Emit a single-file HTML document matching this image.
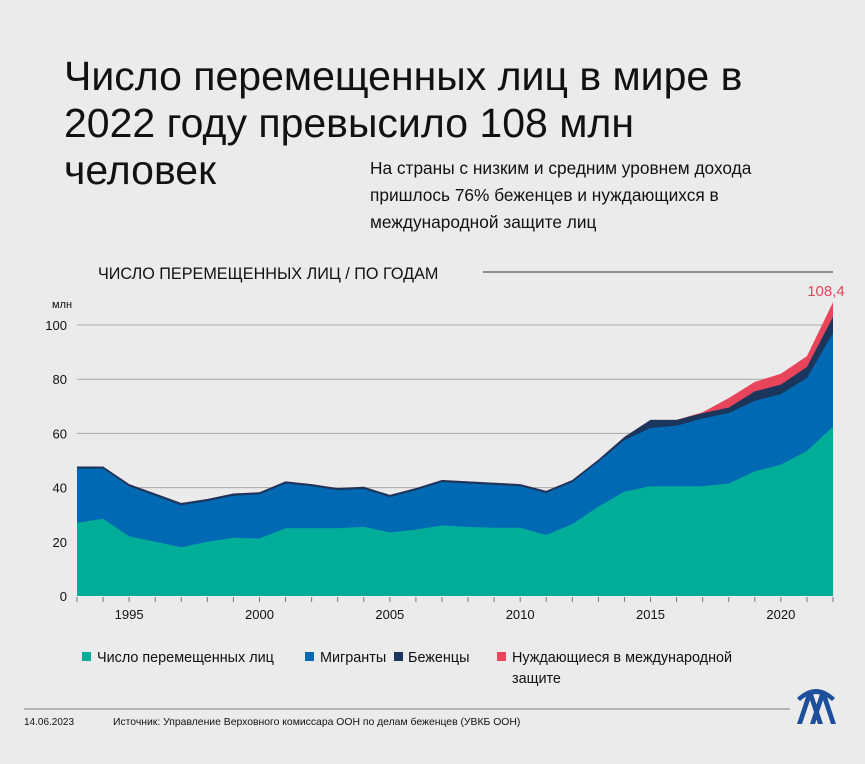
<!DOCTYPE html>
<html><head><meta charset="utf-8"><style>
body{margin:0;background:#ebebeb;}
svg{display:block;font-family:"Liberation Sans",sans-serif;}
</style></head><body>
<svg id="c" width="865" height="764" viewBox="0 0 865 764">
<rect width="865" height="764" fill="#ebebeb"/>
<text x="64" y="90" font-size="41" fill="#111">Число перемещенных лиц в мире в</text>
<text x="64" y="137" font-size="41" fill="#111">2022 году превысило 108 млн</text>
<text x="64" y="184" font-size="41" fill="#111">человек</text>
<g font-size="17.3" fill="#111">
<text x="370" y="174">На страны с низким и средним уровнем дохода</text>
<text x="370" y="201">пришлось 76% беженцев и нуждающихся в</text>
<text x="370" y="228">международной защите лиц</text>
</g>
<text x="98" y="279" font-size="16.2" fill="#111">ЧИСЛО ПЕРЕМЕЩЕННЫХ ЛИЦ / ПО ГОДАМ</text>
<line x1="483" y1="272" x2="833" y2="272" stroke="#333" stroke-width="1"/>
<text x="52" y="308" font-size="11" fill="#111">млн</text>
<g id="grid"></g>
<g id="areas"></g>
<g id="xaxis"></g>
<text id="lastlabel" font-size="15" fill="#e8445a" text-anchor="middle">108,4</text>
<g font-size="14.4" fill="#111">
<rect x="82" y="652" width="9" height="9" fill="#00ad98"/>
<text x="97" y="662">Число перемещенных лиц</text>
<rect x="305" y="652" width="9" height="9" fill="#0069b4"/>
<text x="320" y="662">Мигранты</text>
<rect x="394" y="652" width="9" height="9" fill="#1b365d"/>
<text x="408" y="662">Беженцы</text>
<rect x="497" y="652" width="9" height="9" fill="#e8445a"/>
<text x="512" y="662">Нуждающиеся в международной</text>
<text x="512" y="683">защите</text>
</g>
<line x1="24" y1="709" x2="790" y2="709" stroke="#b5b5b5" stroke-width="2"/>
<text x="24" y="725" font-size="10" fill="#111">14.06.2023</text>
<text x="113" y="725" font-size="10.4" fill="#111">Источник: Управление Верховного комиссара ООН по делам беженцев (УВКБ ООН)</text>
<g fill="#1d4f9c">
<path d="M797 724 L807 694 L813 694 L823 724 L818 724 L810 700 L802 724Z"/>
<path d="M810 724 L820 694 L826 694 L836 724 L831 724 L823 700 L815 724Z"/>
<path d="M797 698 Q816 680 835 698 L832 701 Q816 687 800 701Z"/>
</g>
</svg>
<script>
const years=[1993,1994,1995,1996,1997,1998,1999,2000,2001,2002,2003,2004,2005,2006,2007,2008,2009,2010,2011,2012,2013,2014,2015,2016,2017,2018,2019,2020,2021,2022];
const idp=[27,28.5,22,20,18,20,21.5,21.2,25,25,25,25.5,23.5,24.5,26,25.5,25.2,25.2,22.5,26.5,33,38.5,40.5,40.5,40.5,41.5,46,48.5,53.5,62.5];
const migrants=[20,18.5,18.5,17,15.5,15,15.5,16.3,16.5,15.5,14,14,13,14.5,16,16,15.8,15.3,15.5,15.5,16.5,19,21.5,22.3,25,26,26,26,27,34.5];
const refugees=[0.8,0.8,0.8,0.8,0.8,0.8,0.8,0.8,0.8,0.8,0.8,0.8,0.8,0.8,0.8,0.8,0.8,0.8,0.8,0.8,0.8,1.2,3,2.2,2,2,3.5,3.5,4,6];
const asylum=[0,0,0,0,0,0,0,0,0,0,0,0,0,0,0,0,0,0,0,0,0,0,0,0,0.3,3.5,3.5,4,4,5.4];
const yTicks=[0,20,40,60,80,100];
const xLabels=[1995,2000,2005,2010,2015,2020];
const totalLabel=108.4;
const NS="http://www.w3.org/2000/svg";
const x0=77,x1=833,yb=596,yt=325;
const X=y=>x0+(y-years[0])/(years[years.length-1]-years[0])*(x1-x0);
const Y=v=>yb-v/100*(yb-yt);
function mk(t,a,p){const e=document.createElementNS(NS,t);for(const k in a)e.setAttribute(k,a[k]);p.appendChild(e);return e;}
const grid=document.getElementById('grid');
yTicks.forEach(v=>{
  if(v>0){const l=mk('line',{x1:77,x2:833,y1:Y(v),y2:Y(v),stroke:'#a8a8a8','stroke-width':1},grid);
  
  }
  const t=mk('text',{x:67,y:Y(v)+5,'font-size':13,fill:'#111','text-anchor':'end'},grid);
  t.textContent=v;
  
  
});
const series=[[idp,'#00ad98','area-idp'],[migrants,'#0069b4','area-migrants'],[refugees,'#1b365d','area-refugees'],[asylum,'#e8445a','area-asylum']];
let base=years.map(()=>0);
const areas=document.getElementById('areas');
const layers=[];
series.forEach(([vals,col,name])=>{
  const top=base.map((b,i)=>b+vals[i]);
  layers.push([base.slice(),top,col,name]);base=top;
});
layers.slice().reverse().forEach(([b,top,col,name])=>{
  let d='M'+X(years[0])+','+Y(0);
  top.forEach((v,i)=>d+='L'+X(years[i])+','+Y(v));
  d+='L'+X(years[years.length-1])+','+Y(0)+'Z';
  const p=mk('path',{d:d,fill:col},areas);
  
  
});
const xa=document.getElementById('xaxis');
years.forEach(y=>{const l=mk('line',{x1:X(y),x2:X(y),y1:597,y2:602,stroke:'#777','stroke-width':1},xa);
  
  });
xLabels.forEach(y=>{const t=mk('text',{x:X(y),y:619,'font-size':13,fill:'#111','text-anchor':'middle'},xa);
  t.textContent=y;
  
  });
const ll=document.getElementById('lastlabel');
ll.setAttribute('x',X(years[years.length-1])-7);ll.setAttribute('y',Y(totalLabel)-6);
ll.textContent=String(totalLabel).replace('.',',');
</script>
</body></html>
